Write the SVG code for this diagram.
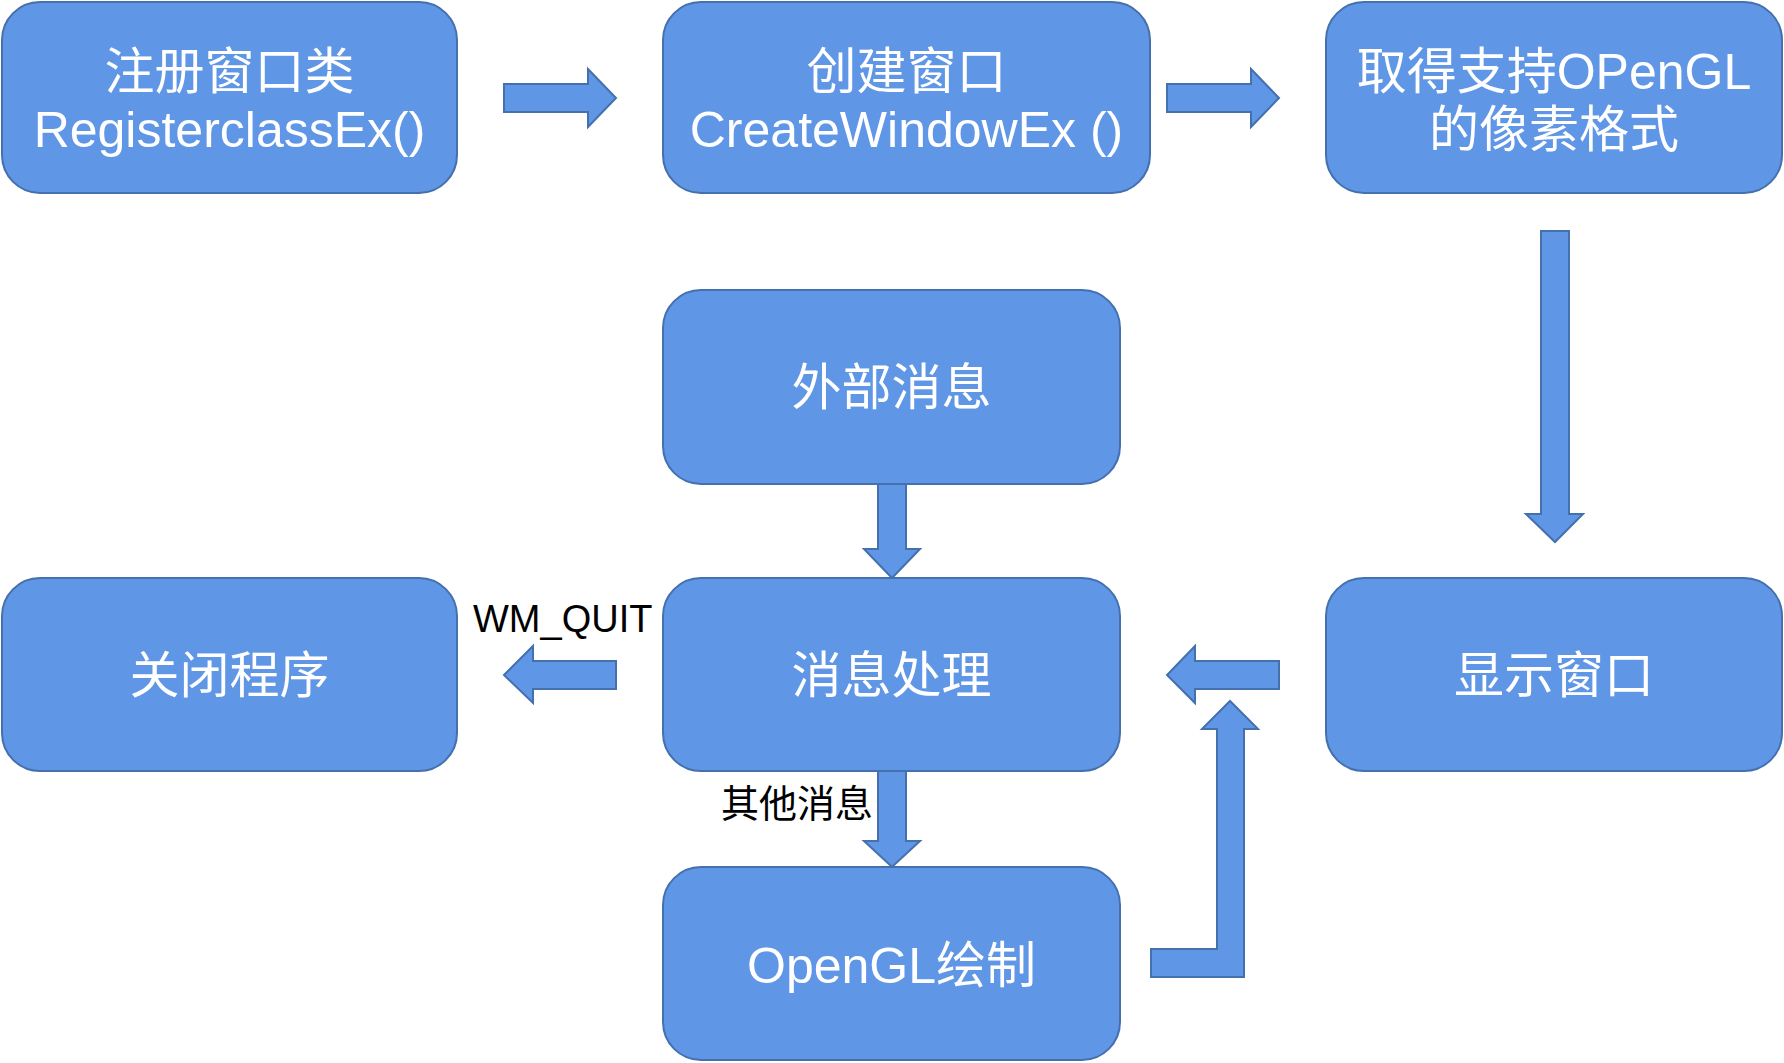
<svg xmlns="http://www.w3.org/2000/svg" width="1784" height="1063" viewBox="0 0 1784 1063">
<style>
.box{fill:#5F96E5;stroke:#4470AE;stroke-width:2}
.arr{fill:#5F96E5;stroke:#4470AE;stroke-width:2;stroke-linejoin:miter}
.t{font-family:"Liberation Sans","Noto Sans CJK SC",sans-serif;font-size:50px;fill:#FFFFFF;text-anchor:middle}
.lbl{font-family:"Liberation Sans","Noto Sans CJK SC",sans-serif;font-size:38px;fill:#000000}
</style>
<rect width="1784" height="1063" fill="#FFFFFF"/>
<g id="connectors">
<path class="arr" d="M504,84 L588,84 L588,69 L616,98 L588,127 L588,112 L504,112 Z"/>
<path class="arr" d="M1167,84 L1251,84 L1251,69 L1279,98 L1251,127 L1251,112 L1167,112 Z"/>
<path class="arr" d="M1541,231 L1569,231 L1569,514 L1583,514 L1555,542 L1526,514 L1541,514 Z"/>
<path class="arr" d="M878,484 L906,484 L906,549 L920,549 L892,578 L864,549 L878,549 Z"/>
<path class="arr" d="M616,661 L533,661 L533,646 L504,675 L533,703 L533,689 L616,689 Z"/>
<path class="arr" d="M1279,661 L1195,661 L1195,646 L1167,675 L1195,703 L1195,689 L1279,689 Z"/>
<path class="arr" d="M878,771 L906,771 L906,841 L920,841 L892,867 L864,841 L878,841 Z"/>
<path class="arr" d="M1151,949 L1217,949 L1217,729 L1202,729 L1230,701 L1258,729 L1244,729 L1244,977 L1151,977 Z"/>
</g>
<g id="node-register">
<rect class="box" x="2" y="2" width="455" height="191" rx="38"/>
<text class="t" x="229.5" y="89">注册窗口类</text>
<text class="t" x="229.5" y="147">RegisterclassEx()</text>
</g>
<g id="node-create">
<rect class="box" x="663" y="2" width="487" height="191" rx="38"/>
<text class="t" x="906.5" y="89">创建窗口</text>
<text class="t" x="906.5" y="147">CreateWindowEx ()</text>
</g>
<g id="node-pixelformat">
<rect class="box" x="1326" y="2" width="456" height="191" rx="38"/>
<text class="t" x="1554" y="89">取得支持OPenGL</text>
<text class="t" x="1554" y="147">的像素格式</text>
</g>
<g id="node-external">
<rect class="box" x="663" y="290" width="457" height="194" rx="38"/>
<text class="t" x="891.5" y="405">外部消息</text>
</g>
<g id="node-close">
<rect class="box" x="2" y="578" width="455" height="193" rx="38"/>
<text class="t" x="229.5" y="693">关闭程序</text>
</g>
<g id="node-process">
<rect class="box" x="663" y="578" width="457" height="193" rx="38"/>
<text class="t" x="891.5" y="693">消息处理</text>
</g>
<g id="node-show">
<rect class="box" x="1326" y="578" width="456" height="193" rx="38"/>
<text class="t" x="1554" y="693">显示窗口</text>
</g>
<g id="node-draw">
<rect class="box" x="663" y="867" width="457" height="193" rx="38"/>
<text class="t" x="891.5" y="983">OpenGL绘制</text>
</g>
<g id="labels">
<text class="lbl" x="473" y="632">WM_QUIT</text>
<text class="lbl" x="721" y="817">其他消息</text>
</g>
</svg>
